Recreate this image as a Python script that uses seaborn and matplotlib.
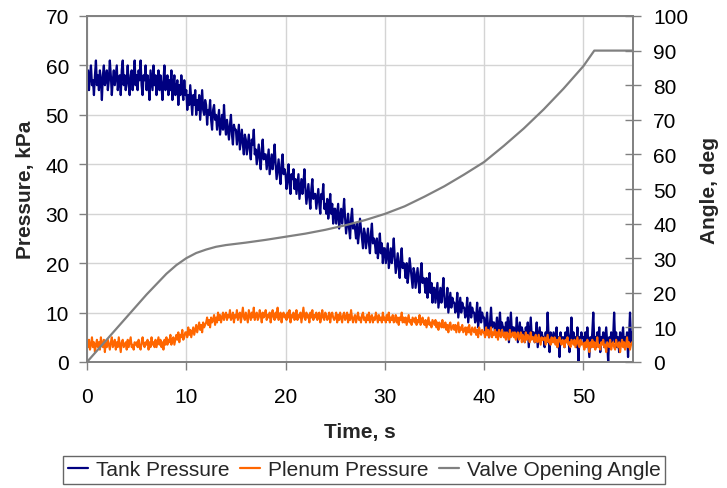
import numpy as np
import pandas as pd
import matplotlib
matplotlib.use("Agg")
import matplotlib.pyplot as plt
import seaborn as sns
from matplotlib.lines import Line2D

# ---------------- data ----------------
time_step = 0.1
tank_pressure = [
    # 0-5 s
    57,59,55,58,60,56,57,54,58,61, 56,58,55,59,57,53,58,60,56,57,
    59,55,57,61,58,54,57,59,56,58, 60,55,57,58,54,59,61,56,58,55,
    57,60,56,54,58,59,55,57,61,56,
    # 5-10 s
    58,55,59,57,61,56,54,58,57,60, 55,58,56,53,59,57,55,60,56,58,
    54,57,59,55,58,56,53,57,60,55, 56,58,54,57,55,59,53,56,58,54,
    55,57,52,56,54,58,55,53,57,54,
    # 10-15 s
    55,51,54,52,56,53,50,54,52,55, 50,53,51,54,49,52,55,51,50,53,
    52,48,51,50,53,49,47,51,52,49, 50,47,49,51,46,48,50,47,52,48,
    46,49,47,45,48,50,46,44,48,47,
    # 15-20 s
    47,44,46,48,43,45,47,44,42,46, 45,42,44,46,43,41,45,44,47,42,
    43,40,42,44,41,39,43,45,41,42, 42,39,41,43,38,40,42,39,41,44,
    40,37,39,41,38,36,40,42,38,39,
    # 20-25 s
    38,35,37,40,36,34,38,37,39,35, 37,34,36,38,33,35,37,34,36,39,
    35,32,34,36,33,31,35,37,33,34, 34,31,33,35,32,30,34,33,36,31,
    32,30,33,29,31,34,30,32,28,31,
    # 25-30 s
    31,28,30,32,27,29,31,28,30,33, 29,26,28,30,27,25,29,31,27,28,
    27,25,28,24,26,29,27,25,23,27, 26,23,25,27,24,22,26,28,24,25,
    24,22,25,21,23,26,22,24,20,23,
    # 30-35 s
    23,20,22,24,19,21,23,20,22,25, 21,18,20,22,19,17,21,23,19,20,
    19,17,20,16,18,21,19,17,15,19, 18,15,17,19,16,14,18,20,16,17,
    16,14,17,13,15,18,14,16,12,15,
    # 35-40 s
    15,12,14,16,11,13,15,12,14,17, 13,11,12,15,10,12,14,11,13,12,
    12,10,11,14,9,11,13,10,12,11, 11,9,10,13,8,10,12,9,11,10,
    10,8,9,12,7,9,11,8,10,9,
    # 40-45 s
    9,6,8,10,7,5,8,11,7,8, 8,6,7,9,5,7,10,6,8,7,
    7,5,8,6,9,4,7,10,6,7, 7,5,6,9,4,6,8,5,7,6,
    6,4,7,5,8,3,6,9,5,6,
    # 45-50 s
    6,4,5,8,3,5,7,4,6,5, 5,3,6,4,10,5,2,6,4,5,
    6,4,5,7,3,5,1,6,4,5, 5,3,6,4,7,5,2,5,9,4,
    6,4,5,3,7,0,5,4,6,5,
    # 50-55 s
    5,3,6,4,7,4,1,5,3,6, 10,4,5,3,6,4,7,2,5,4,
    6,3,5,7,4,0,5,3,6,4, 5,10,4,6,3,5,2,6,4,5,
    7,3,5,4,6,1,5,10,4,6, 5,
]
plenum_pressure = [
    # 0-5 s
    4,3,4.5,2.5,3.5,5,3,4,2,3.5, 4.5,3,4,2.5,5,3.5,3,4.5,2,4,
    3,4.5,3.5,2.5,4,5,3,3.5,4.5,2.5, 4,3,5,3.5,2,4,4.5,3,3.5,4,
    2.5,4.5,3,4,5,3,3.5,2.5,4,3.5,
    # 5-10 s
    4,3,4.5,3,2.5,4,5,3.5,3,4, 3.5,4.5,2.5,4,3,5,3.5,4,3,4.5,
    3,4,5,3.5,4.5,3,4,2.5,4.5,3.5, 5,3.5,4.5,4,5.5,3.5,4.5,5,3.5,4.5,
    5.5,4.5,6,4,5.5,5,6.5,4.5,5,6,
    # 10-15 s
    6,5,7,5.5,6.5,5,6,7,5.5,6.5, 7.5,6,7,8,6.5,7.5,6,8,7,7.5,
    8,9,7.5,8.5,7,9,8,8.5,9.5,7.5, 9,8,10,8.5,9.5,8,9,10,8.5,9.5,
    10,8.5,9.5,9,10.5,8.5,9,10,8,9.5,
    # 15-20 s
    9,10.5,8.5,9.5,10,8,9.5,11,9,8.5, 10,9,8,10.5,9.5,8.5,10,9,11,8.5,
    9.5,10,8.5,9,10.5,9.5,8,10,9,9.5, 10.5,8.5,9.5,9,10,8,9.5,10.5,9,8.5,
    10,9,11,8.5,9.5,10,8,9.5,10,9,
    # 20-25 s
    9.5,8.5,10,9,10.5,8,9.5,9,10,8.5, 9,10.5,8.5,9.5,9,10,8,9.5,11,9,
    8.5,10,9,9.5,8,10,9,10.5,8.5,9.5, 9,10,8.5,9.5,10,8,9,10.5,9,8.5,
    10,9.5,8.5,9,10,8,9.5,10,9,8.5,
    # 25-30 s
    9,10,8,9.5,8.5,10,9,8,9.5,10, 8.5,9,10,8,9.5,8.5,10.5,9,8,9,
    9.5,8,9,10,8.5,9,8,9.5,10,8.5, 9,8,9.5,8.5,10,8,9,9.5,8,9,
    8.5,10,9,8,9.5,8.5,9,8,10,8.5,
    # 30-35 s
    9,8,9.5,8.5,10,8,9,8.5,9.5,8, 8.5,9.5,8,9,7.5,9,8.5,10,8,9,
    8,9,7.5,8.5,9.5,8,8.5,7.5,9,8.5, 8,9,7.5,8.5,8,9.5,7.5,8,9,8,
    7.5,8.5,7,8,9,7.5,8,7,8.5,8,
    # 35-40 s
    7.5,8.5,7,8,6.5,8,7.5,7,8.5,7, 7,8,6.5,7.5,6,7.5,8,6.5,7,7.5,
    6.5,7.5,6,7,8,6,7,6.5,7.5,6, 6.5,7,5.5,7,6,7.5,6,5.5,7,6.5,
    6,7,5.5,6.5,5,7,6,5.5,6.5,6,
    # 40-45 s
    6,5,7,5.5,6.5,5,6,7,5,6, 5.5,6.5,5,6,4.5,6.5,5.5,5,6.5,5.5,
    5,6,4.5,6,5.5,4.5,6.5,5,5.5,6, 5,6,4.5,5.5,6,4.5,5,6,4,5.5,
    5,4,6,4.5,5.5,5,4,6,4.5,5,
    # 45-50 s
    5,4,5.5,4.5,4,5.5,4.5,3.5,5,4.5, 4.5,5,3.5,4.5,5.5,4,4.5,3.5,5,4,
    4,5,3.5,4.5,3,4.5,5,4,3.5,4.5, 4,3,4.5,4,5,3.5,4,3,4.5,4,
    3.5,4.5,3,4,5,3.5,3,4.5,3.5,4,
    # 50-55 s
    3.5,2.5,4,3,4.5,3.5,2,4,3,4.5, 3,4,2.5,3.5,5,3,3.5,2.5,4,3.5,
    4.5,3,3.5,2,4,3.5,3,4.5,2.5,3.5, 4,3,2.5,4.5,3.5,3,4,2,3.5,4.5,
    3,4,2.5,3.5,5,3,4,2.5,3.5,4, 3.5,
]
valve_time = [0, 2, 4, 6, 8, 9, 10, 11, 12, 13, 14, 16, 18, 20, 22, 24, 26, 28,
              30, 32, 34, 36, 38, 40, 42, 44, 46, 48, 50, 51.1, 55]
valve_angle = [0, 6.5, 13, 19.5, 25.5, 28, 30, 31.5, 32.5, 33.3, 33.8, 34.5, 35.3,
               36.2, 37.1, 38.2, 39.5, 41, 42.8, 45, 47.8, 50.8, 54.2, 57.8, 62.5,
               67.5, 73, 79, 85.5, 90, 90]

series_names = ["Tank Pressure", "Plenum Pressure", "Valve Opening Angle"]
colors = ["#000080", "#FF6600", "#808080"]

n = min(len(tank_pressure), len(plenum_pressure))
time = np.arange(n) * time_step
df_p = pd.DataFrame({"t": time, "tank": tank_pressure[:n], "plenum": plenum_pressure[:n]})
df_v = pd.DataFrame({"t": valve_time, "angle": valve_angle})

# ---------------- style ----------------
sns.set_theme(style="white")
plt.rcParams["font.family"] = ["Liberation Sans", "DejaVu Sans"]
FS = 15

fig = plt.figure(figsize=(7.27, 4.89), dpi=100)
ax = fig.add_axes([87/727, 1-363/489, (633-87)/727, (363-17)/489])
ax2 = ax.twinx()

sns.lineplot(data=df_p, x="t", y="tank", ax=ax, color=colors[0], lw=1.6, legend=False)
sns.lineplot(data=df_p, x="t", y="plenum", ax=ax, color=colors[1], lw=1.5, legend=False)
sns.lineplot(data=df_v, x="t", y="angle", ax=ax2, color=colors[2], lw=1.6, legend=False)

ax.set_xlim(0, 55)
ax.set_ylim(0, 70)
ax2.set_ylim(0, 100)
ax.set_xticks([0, 10, 20, 30, 40, 50])
ax.set_yticks(range(0, 71, 10))
ax2.set_yticks(range(0, 101, 10))

ax.grid(True, color="#d4d4d4", lw=1)
ax2.grid(False)
ax.set_axisbelow(True)

for a in (ax, ax2):
    for s in a.spines.values():
        s.set_color("#808080")
        s.set_linewidth(1.2)

ax.tick_params(axis="y", direction="out", length=6, width=1, color="#808080",
               pad=7, labelsize=FS, labelcolor="black", left=True)
ax.tick_params(axis="x", direction="out", length=6, width=1, color="#808080",
               pad=12, labelsize=FS, labelcolor="black", bottom=True)
ax2.tick_params(axis="y", direction="inout", length=11, width=1, color="#808080",
                pad=9, labelsize=FS, labelcolor="black", right=True)

ax.set_xlabel("Time, s", fontsize=FS, fontweight="bold")
ax.set_ylabel("Pressure, kPa", fontsize=FS, fontweight="bold")
ax2.set_ylabel("Angle, deg", fontsize=FS, fontweight="bold")
ax.xaxis.set_label_coords(0.5, (363-423)/346)
ax.yaxis.set_label_coords((35-87)/546, 0.5)
ax2.yaxis.set_label_coords((700-87)/546, 0.5)

handles = [Line2D([], [], color=c, lw=1.6) for c in colors]
leg = fig.legend(handles, series_names, loc="center", bbox_to_anchor=(364/727, 1-471/489),
                 ncol=3, frameon=True, fancybox=False, edgecolor="#404040",
                 fontsize=FS, handlelength=1.0, handletextpad=0.35,
                 columnspacing=0.5, borderpad=0.2)
leg.get_frame().set_linewidth(1.0)

fig.savefig("out.png", dpi=100)
